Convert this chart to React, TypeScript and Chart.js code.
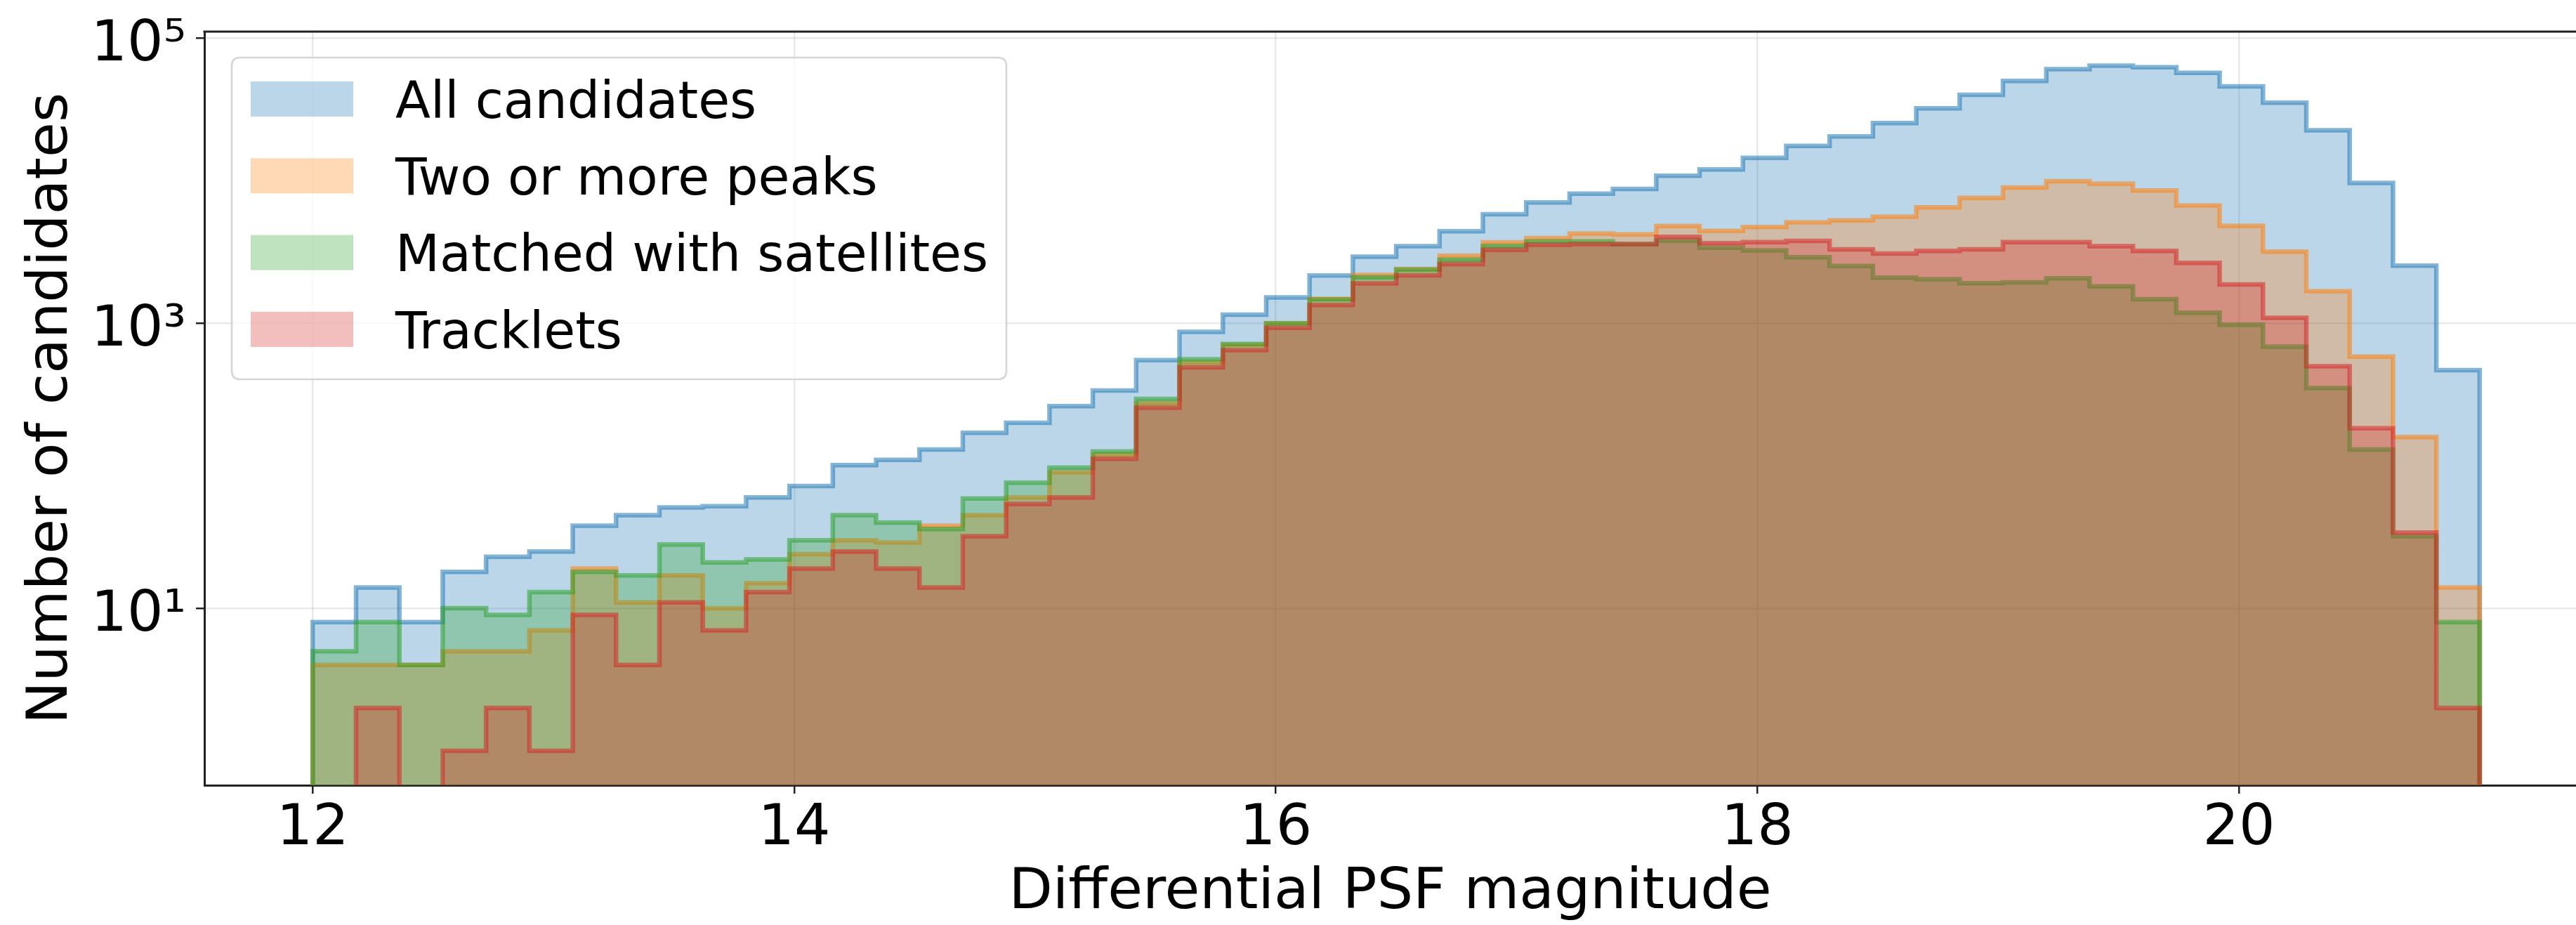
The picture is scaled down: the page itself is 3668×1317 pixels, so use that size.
import React, { useEffect, useRef } from "react";
import { Chart, registerables } from "chart.js";

Chart.register(...registerables);

const W = 3668;
const H = 1317;

// Histogram bin edges (magnitude)
const BIN_EDGES = [
  12.0, 12.18, 12.36, 12.54, 12.72, 12.9, 13.08, 13.26, 13.44, 13.62,
  13.8, 13.98, 14.16, 14.34, 14.52, 14.7, 14.88, 15.06, 15.24, 15.42,
  15.6, 15.78, 15.96, 16.14, 16.32, 16.5, 16.68, 16.86, 17.04, 17.22,
  17.4, 17.58, 17.76, 17.94, 18.12, 18.3, 18.48, 18.66, 18.84, 19.02,
  19.2, 19.38, 19.56, 19.74, 19.92, 20.1, 20.28, 20.46, 20.64, 20.82,
  21.0,
];

const ALL_CANDIDATES = [
  8, 14, 8, 18, 23, 25, 38, 45, 51, 52,
  60, 72, 101, 110, 130, 170, 200, 262, 337, 551,
  869, 1148, 1517, 2162, 2930, 3465, 4418, 5806, 7037, 8110,
  8750, 10820, 11970, 14440, 17510, 20390, 25330, 32140, 39960, 49970,
  60580, 64000, 62500, 57000, 45800, 35200, 22550, 9640, 2530, 469,
];

const TWO_OR_MORE_PEAKS = [
  4, 4, 4, 5, 5, 7, 19, 11, 17, 10,
  15, 24, 30, 29, 38, 45, 60, 90, 120, 275,
  530, 705, 1000, 1480, 2180, 2400, 2975, 3690, 3950, 4250,
  4190, 4800, 4440, 4730, 5100, 5260, 5580, 6500, 7560, 8950,
  9900, 9530, 8530, 6700, 4820, 3180, 1680, 582, 159, 14,
];

const MATCHED_WITH_SATELLITES = [
  5, 8, 4, 10, 9, 13, 18, 17, 28, 21,
  22, 30, 45, 40, 36, 59, 76, 97, 126, 294,
  558, 715, 1000, 1468, 2100, 2380, 2790, 3480, 3750, 3740,
  3590, 3796, 3380, 3245, 2904, 2518, 2088, 2036, 1906, 1935,
  2066, 1810, 1475, 1184, 977, 685, 351, 130, 32, 8,
];

const TRACKLETS = [
  0, 2, 0, 1, 2, 1, 9, 4, 11, 7,
  13, 19, 25, 19, 14, 32, 54, 60, 112, 255,
  490, 648, 928, 1343, 1903, 2166, 2594, 3267, 3550, 3590,
  3590, 4036, 3645, 3700, 3777, 3295, 3083, 3212, 3295, 3700,
  3700, 3465, 3212, 2650, 1867, 1091, 498, 183, 34, 2,
];

const SERIES_LABELS = [
  "All candidates",
  "Two or more peaks",
  "Matched with satellites",
  "Tracklets",
];
const SERIES_VALUES = [ALL_CANDIDATES, TWO_OR_MORE_PEAKS, MATCHED_WITH_SATELLITES, TRACKLETS];
const SERIES_RGB = ["31,119,180", "255,127,14", "44,160,44", "214,39,40"];

const X_TICKS = [12, 14, 16, 18, 20];
const X_TICK_LABELS = ["12", "14", "16", "18", "20"];
const Y_TICKS = [10, 1000, 100000];
const Y_TICK_LABELS = ["10\u00B9", "10\u00B3", "10\u2075"];
const X_TITLE = "Differential PSF magnitude";
const Y_TITLE = "Number of candidates";

const FONT = '"DejaVu Sans", "Liberation Sans", sans-serif';
const AXIS_FONT_SIZE = 81;
const LEGEND_FONT_SIZE = 73;
const FLOOR = 0.1; // below the axis minimum: empty bins drop off the bottom

function stepPoints(counts: number[]) {
  const pts: { x: number; y: number }[] = [{ x: BIN_EDGES[0], y: FLOOR }];
  counts.forEach((c, i) => pts.push({ x: BIN_EDGES[i], y: c > 0 ? c : FLOOR }));
  pts.push({ x: BIN_EDGES[BIN_EDGES.length - 1], y: FLOOR });
  return pts;
}

const overlayPlugin = {
  id: "frameAndLegend",
  afterDraw(chart: any) {
    const { ctx, chartArea: a } = chart;
    ctx.save();
    // top spine
    ctx.strokeStyle = "#222";
    ctx.lineWidth = 3;
    ctx.beginPath();
    ctx.moveTo(a.left - 1.5, a.top);
    ctx.lineTo(a.right, a.top);
    ctx.stroke();

    // legend
    const x0 = a.left + 39;
    const y0 = a.top + 37;
    const w = 1103;
    const h = 458;
    const r = 12;
    ctx.beginPath();
    ctx.moveTo(x0 + r, y0);
    ctx.lineTo(x0 + w - r, y0);
    ctx.quadraticCurveTo(x0 + w, y0, x0 + w, y0 + r);
    ctx.lineTo(x0 + w, y0 + h - r);
    ctx.quadraticCurveTo(x0 + w, y0 + h, x0 + w - r, y0 + h);
    ctx.lineTo(x0 + r, y0 + h);
    ctx.quadraticCurveTo(x0, y0 + h, x0, y0 + h - r);
    ctx.lineTo(x0, y0 + r);
    ctx.quadraticCurveTo(x0, y0, x0 + r, y0);
    ctx.closePath();
    ctx.fillStyle = "rgba(255,255,255,0.8)";
    ctx.fill();
    ctx.strokeStyle = "rgba(204,204,204,0.8)";
    ctx.lineWidth = 2.7;
    ctx.stroke();

    ctx.font = `${LEGEND_FONT_SIZE}px ${FONT}`;
    ctx.textAlign = "left";
    ctx.textBaseline = "alphabetic";
    chart.data.datasets.forEach((ds: any, i: number) => {
      const cy = y0 + 59 + i * 109.3;
      ctx.fillStyle = ds.backgroundColor;
      ctx.fillRect(x0 + 27, cy - 25, 146, 50);
      ctx.fillStyle = "#000";
      ctx.fillText(ds.label, x0 + 233, cy + 26.6);
    });
    ctx.restore();
  },
};

export default function App() {
  const ref = useRef<HTMLCanvasElement>(null);

  useEffect(() => {
    const canvas = ref.current;
    if (!canvas) return;
    Chart.defaults.font.family = FONT;

    const gridCommon = {
      color: "rgba(176,176,176,0.28)",
      lineWidth: 2.5,
      tickColor: "#222",
      tickLength: 12,
      tickWidth: 2.5,
      drawTicks: true,
      drawOnChartArea: true,
    };

    const chart = new Chart(canvas, {
      type: "line",
      data: {
        datasets: SERIES_VALUES.map((vals, i) => ({
          label: SERIES_LABELS[i],
          data: stepPoints(vals),
          borderColor: `rgba(${SERIES_RGB[i]},0.55)`,
          backgroundColor: `rgba(${SERIES_RGB[i]},0.3)`,
          borderWidth: 6.5,
          fill: "start",
          stepped: "before",
          pointRadius: 0,
          pointHoverRadius: 0,
          tension: 0,
          clip: 0,
          order: SERIES_VALUES.length - i,
        })),
      },
      options: {
        animation: false,
        responsive: false,
        maintainAspectRatio: false,
        devicePixelRatio: 1,
        events: [],
        layout: { padding: { left: 0, top: 45, right: 0, bottom: 0 } },
        plugins: {
          legend: { display: false },
          tooltip: { enabled: false },
          title: { display: false },
        },
        scales: {
          x: {
            type: "linear",
            min: 11.55,
            max: 21.4,
            bounds: "data",
            z: 1,
            afterBuildTicks: (s: any) => {
              s.ticks = X_TICKS.map((v) => ({ value: v }));
            },
            afterFit: (s: any) => {
              s.height = H - 1118;
              s.paddingLeft = 0;
              s.paddingRight = 0;
            },
            ticks: {
              autoSkip: false,
              maxRotation: 0,
              padding: 10.5,
              color: "#000",
              font: { size: AXIS_FONT_SIZE, lineHeight: 1 },
              callback: (v: any) => {
                const k = X_TICKS.indexOf(Number(v));
                return k >= 0 ? X_TICK_LABELS[k] : "";
              },
            },
            grid: gridCommon,
            border: { display: true, color: "#222", width: 3 },
            title: {
              display: true,
              text: X_TITLE,
              color: "#000",
              font: { size: AXIS_FONT_SIZE, lineHeight: 1 },
              padding: { top: 0, bottom: 4.5 },
            },
          },
          y: {
            type: "logarithmic",
            min: 0.574,
            max: 111000,
            bounds: "data",
            z: 1,
            afterBuildTicks: (s: any) => {
              s.ticks = Y_TICKS.map((v) => ({ value: v }));
            },
            afterFit: (s: any) => {
              s.width = 291;
              s.paddingTop = 0;
              s.paddingBottom = 0;
            },
            ticks: {
              autoSkip: false,
              padding: 14,
              labelOffset: 11,
              color: "#000",
              font: { size: AXIS_FONT_SIZE, lineHeight: 1 },
              callback: (v: any) => {
                const k = Y_TICKS.indexOf(Number(v));
                return k >= 0 ? Y_TICK_LABELS[k] : "";
              },
            },
            grid: gridCommon,
            border: { display: true, color: "#222", width: 3 },
            title: {
              display: true,
              text: Y_TITLE,
              color: "#000",
              font: { size: AXIS_FONT_SIZE, lineHeight: 1 },
              padding: { top: 33, bottom: 0 },
            },
          },
        },
      } as any,
      plugins: [overlayPlugin],
    });

    return () => chart.destroy();
  }, []);

  return (
    <div
      style={{
        position: "fixed",
        left: 0,
        top: 0,
        width: W,
        height: H,
        overflow: "hidden",
        background: "#fff",
      }}
    >
      <canvas ref={ref} width={W} height={H} style={{ display: "block", width: W, height: H }} />
    </div>
  );
}
